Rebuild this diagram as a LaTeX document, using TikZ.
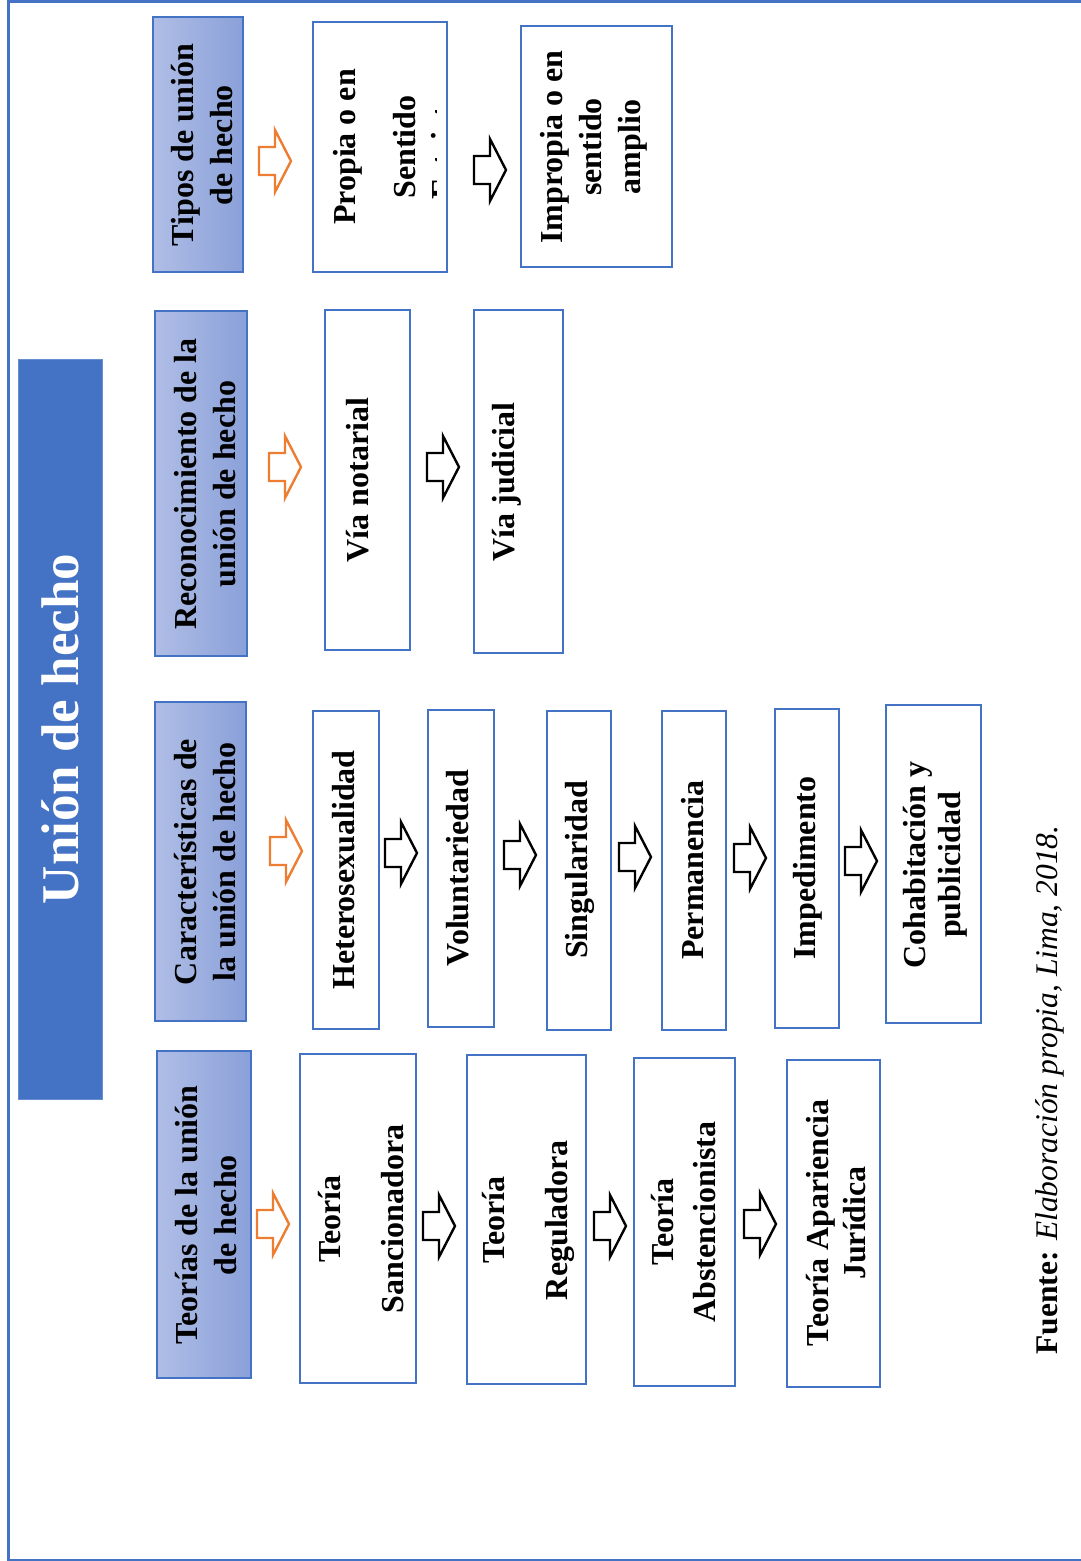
\documentclass[tikz,border=0pt]{standalone}
\usepackage{fontspec}
\setmainfont{Liberation Serif}
\definecolor{frameblue}{HTML}{4472C4}
\definecolor{hdrlight}{HTML}{B0BEE6}
\definecolor{hdrdark}{HTML}{8AA0D9}
\definecolor{arroworange}{HTML}{ED7D31}
\begin{document}
\begin{tikzpicture}[x=1pt,y=-1pt,
  box/.style={draw=frameblue, line width=2.6pt, fill=white, inner sep=0pt},
  hdr/.style={draw=frameblue, line width=1.5pt, left color=hdrlight, right color=hdrdark, inner sep=0pt},
  txt/.style={rotate=90, align=center, inner sep=0pt, font=\bfseries\fontsize{32}{39}\selectfont},
  arrowo/.style={draw=arroworange, line width=2.4pt, fill=white, line join=miter},
  arrowk/.style={draw=black, line width=2.4pt, fill=white, line join=miter},
  pics/barrow/.style={code={\draw[#1] (-16,-14) -- (0,-14) -- (0,-31) -- (16,0) -- (0,31) -- (0,14) -- (-16,14) -- cycle;}}
]
\useasboundingbox (0,0) rectangle (1081,1561);
% outer frame
\draw[frameblue, line width=3pt] (1081,1) -- (8,1) -- (8,1560) -- (1081,1560);

% title
\node[fill=frameblue, draw=frameblue!80, minimum width=84pt, minimum height=740pt, inner sep=0pt] (title) at (60,729) {};
\node[rotate=90, text=white, inner sep=0pt, font=\bfseries\fontsize{53}{60}\selectfont] (titletxt) at (60,729) {Unión de hecho};

% ---------- column 1: Tipos ----------
\node[hdr, minimum width=90pt, minimum height=255pt] (h1) at (198,144.5) {};
\node[txt] (h1t) at (202,145) {Tipos de unión\\de hecho};
\node[box, minimum width=134pt, minimum height=250pt] (b11) at (380,147) {};
\node[txt] (b11t) at (375,147) {Propia o en\\[21pt]Sentido};
\begin{scope}
  \clip (314,23) rectangle (436,271);
  \node[rotate=90, anchor=base, inner sep=0pt, font=\bfseries\fontsize{32}{39}\selectfont] (b11e) at (453,145) {Estricto};
\end{scope}
\node[box, minimum width=151pt, minimum height=241pt] (b12) at (596.5,146.5) {};
\node[txt] (b12t) at (594,147) {Impropia o en\\sentido\\amplio};
\pic (a10) at (275,161) {barrow=arrowo};
\pic (a11) at (490,170) {barrow=arrowk};

% ---------- column 2: Reconocimiento ----------
\node[hdr, minimum width=92pt, minimum height=345pt] (h2) at (201,483.5) {};
\node[txt] (h2t) at (205,484) {Reconocimiento de la\\unión de hecho};
\node[box, minimum width=85pt, minimum height=340pt] (b21) at (367.5,480) {};
\node[txt] (b21t) at (358,480) {Vía notarial};
\node[box, minimum width=89pt, minimum height=343pt] (b22) at (518.5,481.5) {};
\node[txt] (b22t) at (507,482) {Vía judicial};
\pic (a20) at (285,467) {barrow=arrowo};
\pic (a21) at (443,467) {barrow=arrowk};

% ---------- column 3: Caracteristicas ----------
\node[hdr, minimum width=91pt, minimum height=319pt] (h3) at (200.5,861.5) {};
\node[txt] (h3t) at (205,862) {Características de\\la unión de hecho};
\node[box, minimum width=66pt, minimum height=318pt] (b31) at (346,870) {};
\node[txt] (b31t) at (344,870) {Heterosexualidad};
\node[box, minimum width=66pt, minimum height=317pt] (b32) at (461,868.5) {};
\node[txt] (b32t) at (458,868) {Voluntariedad};
\node[box, minimum width=64pt, minimum height=319pt] (b33) at (579,870.5) {};
\node[txt] (b33t) at (580,870) {Singularidad};
\node[box, minimum width=64pt, minimum height=319pt] (b34) at (694,870.5) {};
\node[txt] (b34t) at (693,870) {Permanencia};
\node[box, minimum width=64pt, minimum height=319pt] (b35) at (807,868.5) {};
\node[txt] (b35t) at (808,868) {Impedimento};
\node[box, minimum width=95pt, minimum height=318pt] (b36) at (933.5,864) {};
\node[txt, font=\bfseries\fontsize{32}{35}\selectfont] (b36t) at (935,865) {Cohabitación y\\publicidad};
\pic (a30) at (286,851) {barrow=arrowo};
\pic (a31) at (401,853) {barrow=arrowk};
\pic (a32) at (520,855) {barrow=arrowk};
\pic (a33) at (635,857) {barrow=arrowk};
\pic (a34) at (750,858) {barrow=arrowk};
\pic (a35) at (861,861) {barrow=arrowk};

% ---------- column 4: Teorias ----------
\node[hdr, minimum width=94pt, minimum height=327pt] (h4) at (204,1214.5) {};
\node[txt] (h4t) at (206,1215) {Teorías de la unión\\de hecho};
\node[box, minimum width=116pt, minimum height=329pt] (b41) at (358,1218.5) {};
\node[txt] (b41t) at (361,1219) {Teoría\\[24pt]Sancionadora};
\node[box, minimum width=119pt, minimum height=329pt] (b42) at (526.5,1219.5) {};
\node[txt] (b42t) at (528,1220) {Teoría\\[24pt]Reguladora};
\node[box, minimum width=101pt, minimum height=328pt] (b43) at (684.5,1222) {};
\node[txt, font=\bfseries\fontsize{32}{42}\selectfont] (b43t) at (684,1222) {Teoría\\Abstencionista};
\node[box, minimum width=93pt, minimum height=327pt] (b44) at (833.5,1223.5) {};
\node[txt, font=\bfseries\fontsize{32}{37}\selectfont] (b44t) at (836,1223) {Teoría Apariencia\\Jurídica};
\pic (a40) at (273,1224) {barrow=arrowo};
\pic (a41) at (439,1226) {barrow=arrowk};
\pic (a42) at (610,1226) {barrow=arrowk};
\pic (a43) at (760,1224) {barrow=arrowk};

% source
\node[rotate=90, inner sep=0pt, font=\fontsize{31.5}{36}\selectfont] (src) at (1050,1090) {\textbf{Fuente:} \textit{Elaboración propia, Lima, 2018.}};
\end{tikzpicture}
\end{document}
